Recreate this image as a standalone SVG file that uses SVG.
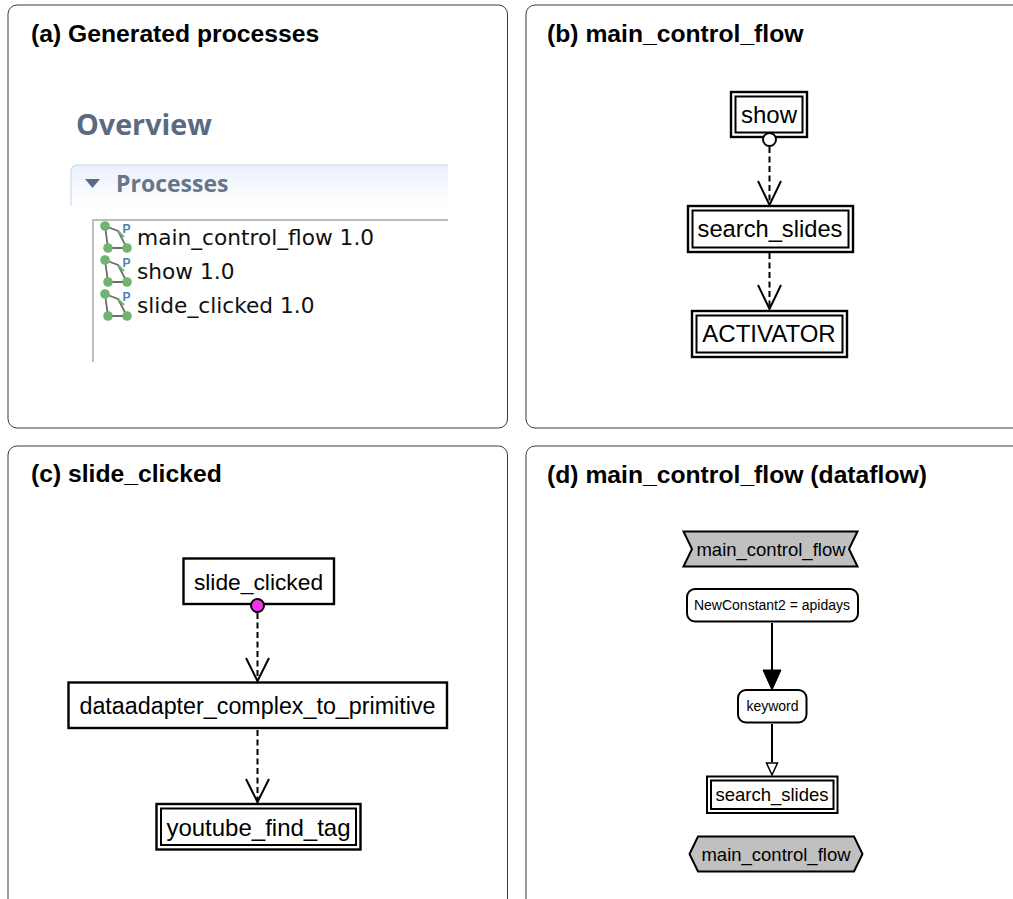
<svg xmlns="http://www.w3.org/2000/svg" width="1013" height="899" viewBox="0 0 1013 899">
<style>
text{font-family:"Liberation Sans",Arial,sans-serif;fill:#000}
.panel{fill:#fff;stroke:#3a3a3a;stroke-width:1}
.title{font-size:24.700px;font-weight:bold}
.n{fill:#fff;stroke:#000;stroke-width:2.400}
.i{fill:none;stroke:#000;stroke-width:2}
.l{font-size:24px;text-anchor:middle}
.d{fill:none;stroke:#000;stroke-width:2;stroke-dasharray:6 3.500}
.s{fill:none;stroke:#000;stroke-width:2}
.open{fill:none;stroke:#000;stroke-width:2}
.g{fill:#c0c0c0;stroke:#000;stroke-width:2}
.small{font-size:14px;text-anchor:middle}
.item{font-family:"DejaVu Sans",sans-serif;font-size:21.700px;fill:#111}
.ol{stroke:#6d6d6d;stroke-width:1.800;fill:none}
.dot{fill:#6fb46f}
.pp{font-size:12px;font-weight:bold;fill:#4d7fb0}
</style>
<defs>
<linearGradient id="hdr" x1="0" y1="0" x2="0" y2="1"><stop offset="0" stop-color="#eaf1fb"/><stop offset="1" stop-color="#ffffff"/></linearGradient>
<g id="pi">
<path class="ol" d="M1 0L14 5L23 22H4Z"/>
<path d="M14 5L20 11" stroke="#6fb46f" stroke-width="1.800" fill="none"/>
<circle class="dot" cx="1" cy="0" r="4.800"/><circle class="dot" cx="4" cy="22" r="4.800"/><circle class="dot" cx="23" cy="22" r="4.800"/>
<text class="pp" x="18.500" y="7">P</text>
</g>
</defs>
<rect width="1013" height="899" fill="#fff"/>
<g id="panels">
<rect class="panel" x="8" y="5" width="499.500" height="423" rx="9"/>
<rect class="panel" x="526" y="5" width="500" height="423" rx="9"/>
<rect class="panel" x="8" y="446" width="499.500" height="470" rx="9"/>
<rect class="panel" x="526" y="446" width="500" height="470" rx="9"/>
<text class="title" x="31" y="42">(a) Generated processes</text>
<text class="title" x="547" y="42">(b) main_control_flow</text>
<text class="title" x="31" y="482">(c) slide_clicked</text>
<text class="title" x="547" y="483">(d) main_control_flow (dataflow)</text>
</g>
<g id="overview">
<text x="76" y="135" font-size="28.700" font-weight="bold" style="font-family:'Open Sans','Liberation Sans',sans-serif;fill:#5a6a82">Overview</text>
<path d="M71 206V172Q71 165 78 165H448V206Z" fill="url(#hdr)"/>
<path d="M71 206V172Q71 165 78 165H448" fill="none" stroke="#d3e0f0" stroke-width="1.500"/>
<path d="M85 179H100L92.500 188Z" fill="#5a6a82"/>
<text x="116" y="192" font-size="23" font-weight="bold" style="font-family:'Open Sans','Liberation Sans',sans-serif;fill:#66758b">Processes</text>
<path d="M93 362V220H448" fill="none" stroke="#a8a8a8" stroke-width="1.500"/>
<use href="#pi" x="104" y="226"/><use href="#pi" x="104" y="260"/><use href="#pi" x="104" y="294"/>
<text class="item" x="137" y="245">main_control_flow 1.0</text>
<text class="item" x="137" y="279">show 1.0</text>
<text class="item" x="137" y="313">slide_clicked 1.0</text>
</g>
<g id="connectors">
<path class="d" d="M769.500 147V204"/><path class="open" d="M758 181L769.500 205L781 181"/>
<path class="d" d="M769.500 253V309"/><path class="open" d="M758 285L769.500 309L781 285"/>
<path class="d" d="M257.500 613V681"/><path class="open" d="M246 658L257.500 681L269 658"/>
<path class="d" d="M257.500 730V803"/><path class="open" d="M246 779L257.500 802L269 779"/>
<path class="s" d="M772 623V672"/><path d="M763 670H781L772 690Z" fill="#000" stroke="#000"/>
<path class="s" d="M772 724V762"/><path d="M766.500 763H777.500L772 775Z" fill="#fff" stroke="#000" stroke-width="1.500"/>
</g>
<g id="node-show"><rect class="n" x="731" y="92" width="76" height="45"/><rect class="i" x="735.500" y="96.500" width="67" height="36"/><text class="l" x="769" y="123">show</text></g>
<g id="port-show"><circle cx="769.500" cy="139.500" r="6.500" fill="#fff" stroke="#000" stroke-width="2"/></g>
<g id="node-search-b"><rect class="n" x="688" y="206" width="165" height="46"/><rect class="i" x="692.500" y="210.500" width="156" height="37"/><text class="l" x="770" y="237" style="font-size:23.700px">search_slides</text></g>
<g id="node-activator"><rect class="n" x="692" y="311" width="155" height="46"/><rect class="i" x="696.500" y="315.500" width="146" height="37"/><text class="l" x="769" y="342">ACTIVATOR</text></g>
<g id="node-slide"><rect class="n" x="183.500" y="558.500" width="150.500" height="45.500"/><text class="l" x="258.500" y="590" style="font-size:22.800px">slide_clicked</text></g>
<g id="port-slide"><circle cx="257.500" cy="605.500" r="6.500" fill="#f830f0" stroke="#000" stroke-width="2"/></g>
<g id="node-adapter"><rect class="n" x="68.500" y="682.500" width="378.500" height="45.500"/><text class="l" x="257.500" y="714" style="font-size:23.300px">dataadapter_complex_to_primitive</text></g>
<g id="node-youtube"><rect class="n" x="156.500" y="804" width="204" height="45.500"/><rect class="i" x="161" y="808.500" width="195" height="36.500"/><text class="l" x="258.500" y="836">youtube_find_tag</text></g>
<g id="node-in"><path class="g" d="M683.500 531.500H857.500L849 549L857.500 566.500H683.500L692 549Z"/><text class="l" x="771" y="556" style="font-size:18.500px">main_control_flow</text></g>
<g id="node-const"><rect x="687" y="589" width="171" height="32.500" rx="8" fill="#fff" stroke="#000" stroke-width="2"/><text class="small" x="772" y="610">NewConstant2 = apidays</text></g>
<g id="node-keyword"><rect x="738" y="690" width="68.500" height="32.500" rx="8" fill="#fff" stroke="#000" stroke-width="2"/><text class="small" x="772.500" y="711">keyword</text></g>
<g id="node-search-d"><rect class="s" x="707" y="776.500" width="130.500" height="36.500"/><rect class="s" x="711" y="780.500" width="122.500" height="28.500" stroke-width="1.500"/><text class="l" x="772" y="801" style="font-size:18.500px">search_slides</text></g>
<g id="node-out"><path class="g" d="M698 836.500H854L862.500 854L854 871.500H698L689.500 854Z"/><text class="l" x="776" y="861" style="font-size:18.500px">main_control_flow</text></g>
</svg>
